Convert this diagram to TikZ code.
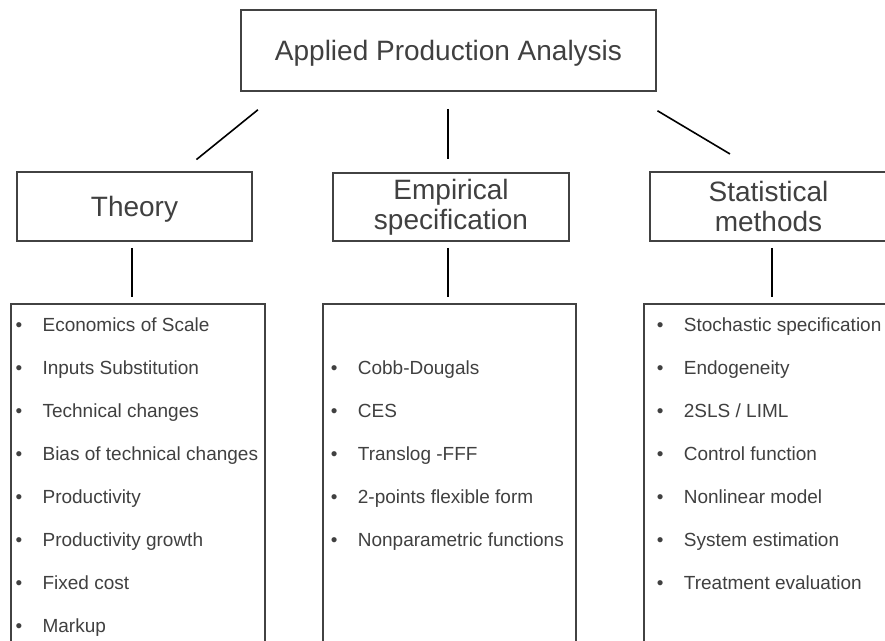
\documentclass[tikz,border=0pt]{standalone}
\usepackage{fontspec}
\setmainfont{Liberation Sans}
\usepackage{tikz}
\usetikzlibrary{calc}
\definecolor{inkGray}{RGB}{64,64,64}
\definecolor{lineGray}{RGB}{66,66,66}

\begin{document}
\begin{tikzpicture}[
    x=1pt, y=-1pt,
    headbox/.style={rectangle, draw=lineGray, line width=1.5pt, fill=white, text=inkGray,
        align=center, font=\fontsize{28}{30}\selectfont, inner sep=0pt},
    oneline/.style={text height=25.5pt},
    listbox/.style={rectangle, draw=lineGray, line width=1.5pt, fill=white, inner sep=0pt,
        minimum height=356pt},
    item/.style={anchor=base west, inner sep=0pt, text=inkGray, font=\fontsize{19}{23}\selectfont},
    link/.style={line width=1.6pt, black}
]
\useasboundingbox (0,0) rectangle (885,640);
\clip (0,0) rectangle (885,640);

% headings
\node[headbox, oneline, minimum width=415pt, minimum height=81pt] (apa)    at (448.5,50.5) {Applied Production Analysis};
\node[headbox, oneline, minimum width=235pt, minimum height=69pt] (theory) at (134.5,206.5) {Theory};
\node[headbox, minimum width=236pt, minimum height=68pt] (emp)    at (451,207)     {Empirical\\specification};
\node[headbox, minimum width=237pt, minimum height=69pt] (stat)   at (768.5,206.5) {Statistical\\methods};

% list boxes
\node[listbox, minimum width=254pt] (thlist) at (138,482)   {};
\node[listbox, minimum width=253pt] (emlist) at (449.5,482) {};
\node[listbox, minimum width=256pt] (stlist) at (772,482)   {};

% theory items
\node[item] (th1) at (15.4,331)   {\makebox[27pt][l]{•}Economics of Scale};
\node[item] (th2) at (15.4,374)   {\makebox[27pt][l]{•}Inputs Substitution};
\node[item] (th3) at (15.4,417)   {\makebox[27pt][l]{•}Technical changes};
\node[item] (th4) at (15.4,460)   {\makebox[27pt][l]{•}Bias of technical changes};
\node[item] (th5) at (15.4,503.5) {\makebox[27pt][l]{•}Productivity};
\node[item] (th6) at (15.4,546.5) {\makebox[27pt][l]{•}Productivity growth};
\node[item] (th7) at (15.4,589.5) {\makebox[27pt][l]{•}Fixed cost};
\node[item] (th8) at (15.4,632.5) {\makebox[27pt][l]{•}Markup};

% empirical items
\node[item] (em1) at (330.7,374)   {\makebox[27pt][l]{•}Cobb-Dougals};
\node[item] (em2) at (330.7,417)   {\makebox[27pt][l]{•}CES};
\node[item] (em3) at (330.7,460)   {\makebox[27pt][l]{•}Translog -FFF};
\node[item] (em4) at (330.7,503.5) {\makebox[27pt][l]{•}2-points flexible form};
\node[item] (em5) at (330.7,546.5) {\makebox[27pt][l]{•}Nonparametric functions};

% statistical items
\node[item] (st1) at (656.7,331)   {\makebox[27pt][l]{•}Stochastic specification};
\node[item] (st2) at (656.7,374)   {\makebox[27pt][l]{•}Endogeneity};
\node[item] (st3) at (656.7,417)   {\makebox[27pt][l]{•}2SLS / LIML};
\node[item] (st4) at (656.7,460)   {\makebox[27pt][l]{•}Control function};
\node[item] (st5) at (656.7,503.5) {\makebox[27pt][l]{•}Nonlinear model};
\node[item] (st6) at (656.7,546.5) {\makebox[27pt][l]{•}System estimation};
\node[item] (st7) at (656.7,589.5) {\makebox[27pt][l]{•}Treatment evaluation};

% links
\draw[link] ($(apa.south west)+(17.7,18)$) -- ($(theory.north east)+(-56.3,-11.7)$);
\draw[link] ($(apa.south)+(-0.5,17)$) -- ($(emp.north)+(-3,-13)$);
\draw[link] ($(apa.south east)+(0.7,19)$) -- ($(stat.north west)+(80.7,-17.3)$);
\draw[link] ($(theory.south)+(-2.5,6)$) -- ($(thlist.north)+(-6,-6)$);
\draw[link] ($(emp.south)+(-3,6)$) -- ($(emlist.north)+(-1.5,-6)$);
\draw[link] ($(stat.south)+(3.5,6)$) -- ($(stlist.north)+(0,-6)$);
\end{tikzpicture}
\end{document}
